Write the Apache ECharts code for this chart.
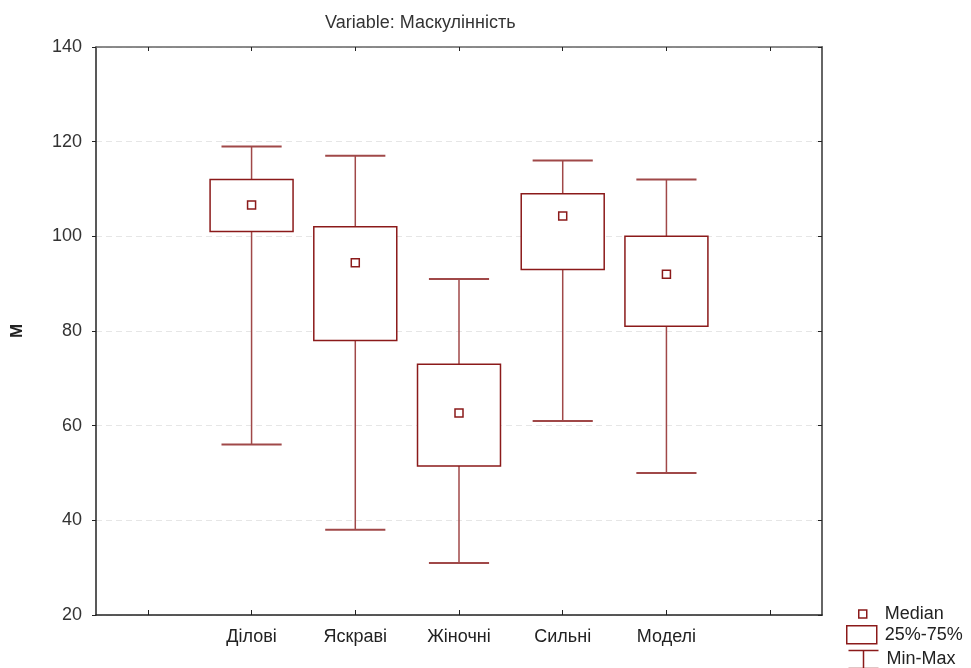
<!DOCTYPE html>
<html>
<head>
<meta charset="utf-8">
<script src="https://cdn.jsdelivr.net/npm/echarts@6/dist/echarts.min.js"></script>
<style>
html, body { margin: 0; padding: 0; background: #fff; }
#chart { width: 971px; height: 668px; }
</style>
</head>
<body>
<div id="chart"></div>
<script>
// categories (empty slots at both ends, like the original plot)
const categories = ['', 'Ділові', 'Яскраві', 'Жіночні', 'Сильні', 'Моделі', ''];
const groups = ['Ділові', 'Яскраві', 'Жіночні', 'Сильні', 'Моделі'];
const minVals = [56, 38, 31, 61, 50];
const q1Vals = [101, 78, 51.5, 93, 81];
const medianVals = [106.6, 94.4, 62.7, 104.3, 92];
const q3Vals = [112, 102, 73, 109, 100];
const maxVals = [119, 117, 91, 116, 112];
const yTicks = [20, 40, 60, 80, 100, 120, 140];

const RED = '#8b1a1a';
const FONT = 'Liberation Sans, Arial, sans-serif';

let boxData = groups.map((g, i) => [i + 1, q1Vals[i], q3Vals[i]]);
let whiskerData = groups.map((g, i) => [i + 1, minVals[i], q1Vals[i], q3Vals[i], maxVals[i]]);
let medianData = groups.map((g, i) => [i + 1, medianVals[i]]);

let myChart = echarts.init(document.getElementById('chart'));
let option = {
    animation: false,
    title: {
        text: 'Variable: Маскулінність',
        left: 320,
        top: 9,
        textStyle: { fontFamily: FONT, fontSize: 18, fontWeight: 'normal', color: '#333' }
    },
    grid: { left: 96, right: 149, top: 47, bottom: 53 },
    legend: [
        {
            data: [{ name: 'Median', icon: 'rect', itemStyle: { color: '#fff', borderColor: RED, borderWidth: 1.5 } }],
            left: 858, top: 605, padding: 0, itemWidth: 8, itemHeight: 8,
            selectedMode: false,
            textStyle: { fontFamily: FONT, fontSize: 18, color: '#222', padding: [0, 0, 0, 13] }
        },
        {
            data: [{ name: '25%-75%', icon: 'rect', itemStyle: { color: '#fff', borderColor: RED, borderWidth: 1.5 } }],
            left: 846, top: 625, padding: 0, itemWidth: 30, itemHeight: 18,
            selectedMode: false,
            textStyle: { fontFamily: FONT, fontSize: 18, color: '#222', padding: [0, 0, 0, 3] }
        },
        {
            data: [{ name: 'Min-Max', icon: 'path://M0,0H30M15,0V18M0,18H30', itemStyle: { color: 'none', borderColor: RED, borderWidth: 1.5 } }],
            left: 846, top: 648, padding: 0, itemWidth: 30, itemHeight: 18,
            selectedMode: false,
            textStyle: { fontFamily: FONT, fontSize: 18, color: '#222', padding: [0, 0, 0, 3] }
        }
    ],
    xAxis: [
        {
            type: 'category',
            data: categories,
            boundaryGap: true,
            axisLine: { lineStyle: { color: '#222', width: 1.5 } },
            axisTick: { show: true, interval: 0, alignWithLabel: true, inside: true, length: 5, lineStyle: { color: '#222' } },
            axisLabel: { interval: 0, fontFamily: FONT, fontSize: 18, color: '#222', margin: 13 },
            splitLine: { show: false }
        },
        {
            type: 'category',
            position: 'top',
            data: categories,
            boundaryGap: true,
            axisLine: { lineStyle: { color: '#666', width: 1.5 } },
            axisTick: { show: true, interval: 0, alignWithLabel: true, inside: true, length: 4, lineStyle: { color: '#222' } },
            axisLabel: { show: false },
            splitLine: { show: false }
        }
    ],
    yAxis: [
        {
            type: 'value',
            min: yTicks[0],
            max: yTicks[yTicks.length - 1],
            interval: 20,
            name: 'M',
            nameLocation: 'middle',
            nameRotate: 90,
            nameGap: 70,
            nameTextStyle: { fontFamily: FONT, fontSize: 17, fontWeight: 'bold', color: '#222' },
            axisLine: { show: true, lineStyle: { color: '#222', width: 1.5 } },
            axisTick: { show: true, length: 4, lineStyle: { color: '#222' } },
            axisLabel: { fontFamily: FONT, fontSize: 18, color: '#333', margin: 14 },
            splitLine: { show: true, lineStyle: { color: '#e6e6e6', type: [6, 4] } }
        },
        {
            type: 'value',
            position: 'right',
            min: yTicks[0],
            max: yTicks[yTicks.length - 1],
            interval: 20,
            axisLine: { show: true, lineStyle: { color: '#666', width: 2 } },
            axisTick: { show: true, inside: true, length: 4, lineStyle: { color: '#222' } },
            axisLabel: { show: false },
            splitLine: { show: false }
        }
    ],
    series: [
        {
            name: 'Min-Max',
            type: 'custom',
            data: whiskerData,
            encode: { x: 0, y: [1, 2, 3, 4] },
            renderItem: function (params, api) {
                let x = api.value(0);
                let pMin = api.coord([x, api.value(1)]);
                let pQ1 = api.coord([x, api.value(2)]);
                let pQ3 = api.coord([x, api.value(3)]);
                let pMax = api.coord([x, api.value(4)]);
                let half = api.size([1, 0])[0] * 0.29;
                let st = { stroke: '#a04848', lineWidth: 1.5, fill: null };
                return {
                    type: 'group',
                    children: [
                        { type: 'line', shape: { x1: pMin[0], y1: pMin[1], x2: pQ1[0], y2: pQ1[1] }, style: st },
                        { type: 'line', shape: { x1: pQ3[0], y1: pQ3[1], x2: pMax[0], y2: pMax[1] }, style: st },
                        { type: 'line', shape: { x1: pMin[0] - half, y1: pMin[1], x2: pMin[0] + half, y2: pMin[1] }, style: { stroke: '#a04848', lineWidth: 2 } },
                        { type: 'line', shape: { x1: pMax[0] - half, y1: pMax[1], x2: pMax[0] + half, y2: pMax[1] }, style: { stroke: '#a04848', lineWidth: 2 } }
                    ]
                };
            },
            z: 2
        },
        {
            name: '25%-75%',
            type: 'custom',
            data: boxData,
            encode: { x: 0, y: [1, 2] },
            renderItem: function (params, api) {
                let x = api.value(0);
                let pLow = api.coord([x, api.value(1)]);
                let pHigh = api.coord([x, api.value(2)]);
                let w = api.size([1, 0])[0] * 0.8;
                return {
                    type: 'rect',
                    shape: { x: pLow[0] - w / 2, y: pHigh[1], width: w, height: pLow[1] - pHigh[1] },
                    style: { fill: '#fff', stroke: RED, lineWidth: 1.5 }
                };
            },
            z: 3
        },
        {
            name: 'Median',
            type: 'scatter',
            data: medianData,
            symbol: 'rect',
            symbolSize: 8,
            itemStyle: { color: '#fff', borderColor: RED, borderWidth: 1.5, opacity: 1 },
            z: 4
        }
    ]
};
myChart.setOption(option);
window.addEventListener('resize', function () {
    myChart.resize();
});
</script>
</body>
</html>
